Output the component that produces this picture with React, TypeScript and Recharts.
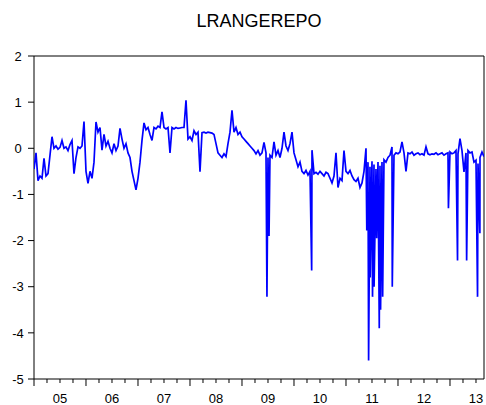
import * as React from 'react';
import {LineChart, Line, XAxis, YAxis, ReferenceArea} from 'recharts';

// biweekly readings per year (26 per year, 2013 partial)
const y2005 = [-0.45, -0.1, -0.7, -0.6, -0.65, -0.22, -0.6, -0.55, -0.15, 0.25, 0.0, 0.05, -0.02, 0.02, 0.17, 0.0, 0.03, -0.05, 0.08, 0.17, -0.55, -0.2, 0.03, 0.0, 0.05, 0.58];
const y2006 = [-0.5, -0.76, -0.5, -0.65, -0.3, 0.57, 0.35, 0.45, -0.04, 0.3, 0.05, 0.15, 0.0, -0.1, 0.1, -0.05, 0.05, 0.43, 0.2, 0.0, 0.1, -0.1, -0.2, -0.5, -0.7, -0.9];
const y2007 = [-0.65, -0.3, 0.17, 0.55, 0.4, 0.45, 0.3, 0.17, 0.45, 0.42, 0.48, 0.45, 0.79, 0.45, 0.42, 0.45, -0.1, 0.45, 0.42, 0.45, 0.43, 0.44, 0.45, 0.45, 1.04, 0.2];
const y2008 = [0.25, 0.17, 0.38, 0.3, 0.35, -0.51, 0.34, 0.35, 0.33, 0.35, 0.34, 0.33, 0.3, 0.1, -0.1, -0.15, -0.2, -0.12, -0.18, 0.1, 0.35, 0.82, 0.35, 0.45, 0.3, 0.35];
const y2009 = [0.25, 0.2, 0.15, 0.1, 0.05, 0.0, -0.05, -0.12, -0.05, -0.15, -0.1, 0.13, -0.1, -0.2, -0.15, -0.2, 0.14, -0.15, -0.05, -0.2, 0.0, 0.35, 0.05, -0.05, 0.1, 0.35];
const y2010 = [-0.1, -0.25, -0.4, -0.3, -0.5, -0.55, -0.48, -0.58, -0.5, -0.04, -0.55, -0.52, -0.56, -0.5, -0.55, -0.6, -0.52, -0.55, -0.65, -0.75, -0.6, -0.1, -0.85, -0.65, -0.7, -0.05];
const y2011 = [-0.5, -0.55, -0.48, -0.6, -0.68, -0.72, -0.65, -0.85, -0.75, -0.5, 0.0, -0.3, -0.4, -0.28, -0.35, -0.45, -0.3, -0.38, -0.3, -0.25, -0.3, -0.2, -0.15, 0.03, -0.15, -0.1];
const y2012 = [-0.12, -0.08, 0.14, -0.1, -0.5, -0.1, -0.12, -0.08, -0.15, -0.12, -0.1, -0.14, -0.12, -0.15, 0.03, -0.12, -0.14, -0.12, -0.13, -0.1, -0.14, -0.12, -0.1, -0.15, -0.12, -0.1];
const y2013 = [-0.08, -0.12, -0.1, -0.05, -0.12, 0.21, -0.05, -0.51, -0.1, -0.05, -0.1, -0.08, -0.3, -0.26, -0.33, -0.2, -0.08, -0.18];

const years = [2005, 2006, 2007, 2008, 2009, 2010, 2011, 2012, 2013];
const yearValues = [y2005, y2006, y2007, y2008, y2009, y2010, y2011, y2012, y2013];

// single-day drops
const spikeDates = [2009.48, 2009.52, 2010.34, 2011.40, 2011.435, 2011.465, 2011.51, 2011.54, 2011.59, 2011.64, 2011.665, 2011.705, 2011.89, 2012.97, 2013.145, 2013.32, 2013.53, 2013.575];
const spikeValues = [-3.22, -1.9, -2.65, -1.78, -4.6, -2.8, -3.22, -3.0, -1.95, -3.9, -3.5, -3.22, -3.0, -1.3, -2.43, -2.43, -3.22, -1.84];

const yTicks = [-5, -4, -3, -2, -1, 0, 1, 2];
const xTicks: number[] = [];
years.forEach(y => [0, 0.25, 0.5, 0.75].forEach(q => { if (y + q <= 2013.654) xTicks.push(y + q); }));

const data: {t: number; v: number}[] = [];
years.forEach((y, k) => yearValues[k].forEach((v, i) => data.push({t: y + i / 26, v})));
spikeDates.forEach((t, i) => data.push({t, v: spikeValues[i]}));
data.sort((a, b) => a.t - b.t);

const AXIS_Y = 379;
const FONT = '"Liberation Sans", Arial, sans-serif';

const XTick = (props: any) => {
    const {x, payload} = props;
    const v = payload.value;
    const frac = v - Math.floor(v);
    const major = frac < 1e-6;
    return (
        <g>
            <line x1={x} x2={x} y1={AXIS_Y} y2={AXIS_Y + (major ? 7 : 4)} stroke="#000" />
            {Math.abs(frac - 0.5) < 1e-6 &&
                <text x={x} y={AXIS_Y + 23.5} textAnchor="middle" fontSize={13} fontFamily={FONT} fill="#000">
                    {String(Math.floor(v) % 100).padStart(2, '0')}
                </text>}
        </g>
    );
};

const YTick = (props: any) => {
    const {y, payload} = props;
    return (
        <g>
            <line x1={28} x2={34} y1={y} y2={y} stroke="#000" />
            <text x={18} y={y} dy="0.36em" textAnchor="middle" fontSize={13} fontFamily={FONT} fill="#000">
                {payload.value}
            </text>
        </g>
    );
};

export default function App() {
    return (
        <div style={{position: 'absolute', left: 0, top: 0, width: 486, height: 405, background: '#fff'}}>
            <div style={{position: 'absolute', left: 34, width: 450, top: 12, textAlign: 'center', fontFamily: FONT, fontSize: 18, lineHeight: '18px', color: '#000'}}>
                LRANGEREPO
            </div>
            <LineChart width={486} height={405} data={data} margin={{top: 56, right: 2, bottom: 2, left: 4}}>
                <XAxis dataKey="t" type="number" domain={[2005, 2013.654]} ticks={xTicks} interval={0}
                    allowDataOverflow tickLine={false} axisLine={false} height={24} tick={<XTick />} />
                <YAxis type="number" domain={[-5, 2]} ticks={yTicks} interval={0} allowDataOverflow
                    tickLine={false} axisLine={false} width={30} tick={<YTick />} />
                <ReferenceArea x1={2005} x2={2013.654} y1={-5} y2={2} fill="none" stroke="#000" strokeWidth={1} />
                <Line type="linear" dataKey="v" stroke="#0000ff" strokeWidth={1.7} dot={false} isAnimationActive={false} />
            </LineChart>
        </div>
    );
}
